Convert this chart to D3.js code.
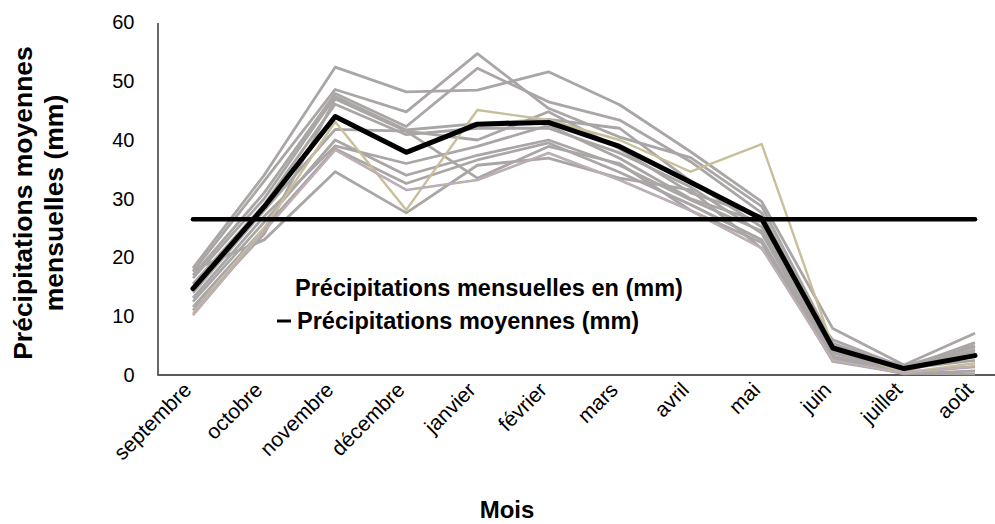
<!DOCTYPE html>
<html lang="fr">
<head>
<meta charset="utf-8">
<script src="https://cdn.jsdelivr.net/npm/d3@7"></script>
<style>
  html, body { margin: 0; padding: 0; background: #fff; }
  svg { display: block; font-family: "Liberation Sans", Arial, sans-serif; }
</style>
</head>
<body>
<svg id="chart" width="995" height="524"></svg>
<script>
// Mois de l'année hydrologique (septembre → août)
const months = ["septembre", "octobre", "novembre", "décembre", "janvier", "février",
                "mars", "avril", "mai", "juin", "juillet", "août"];

const yTicks = [0, 10, 20, 30, 40, 50, 60];

// Précipitations mensuelles (mm) par station / année
const station01 = [18.2, 34.0, 52.4, 48.2, 48.5, 51.6, 46.0, 38.0, 29.5, 7.9, 1.7, 7.1];
const station02 = [17.6, 33.0, 48.6, 44.8, 54.7, 45.4, 40.5, 37.0, 28.7, 5.4, 1.2, 5.5];
const station03 = [17.0, 31.0, 47.9, 42.3, 52.2, 46.5, 43.4, 36.3, 27.6, 4.5, 1.0, 4.8];
const station04 = [16.5, 30.0, 47.4, 41.7, 42.8, 43.5, 42.0, 33.0, 25.2, 3.7, 0.8, 4.3];
const station05 = [15.5, 29.0, 46.1, 40.9, 42.0, 42.0, 37.8, 32.0, 24.1, 3.2, 0.6, 3.8];
const station06 = [14.0, 28.0, 41.8, 41.5, 40.0, 44.8, 38.5, 31.0, 27.0, 5.0, 1.5, 5.0];
const station07 = [13.1, 27.0, 39.0, 36.0, 38.9, 42.5, 36.9, 30.0, 26.0, 4.0, 1.1, 2.5];
const station08 = [12.5, 26.0, 40.0, 34.0, 37.4, 40.0, 35.7, 29.8, 24.5, 3.0, 0.5, 1.4];
const station09 = [11.6, 25.0, 38.5, 32.6, 36.6, 39.5, 34.5, 29.0, 23.0, 2.8, 0.2, 0.7];
const station10 = [11.0, 24.0, 47.0, 41.5, 33.5, 38.9, 36.0, 28.0, 22.5, 2.3, 0.3, 0.2];
const station11 = [17.9, 23.0, 34.6, 27.6, 35.7, 36.9, 33.5, 31.5, 21.5, 6.0, 1.3, 4.0];
const station12 = [10.5, 25.0, 43.1, 28.1, 45.1, 43.4, 40.0, 34.6, 39.3, 4.8, 0.4, 2.0];
const station13 = [10.2, 24.5, 38.3, 31.5, 33.2, 37.8, 33.2, 28.0, 21.6, 2.5, 0.3, 1.5];

// Précipitations moyennes (mm)
const meanSeries = [14.7, 28.6, 44.0, 37.9, 42.7, 43.0, 38.9, 32.8, 26.6, 4.6, 1.1, 3.3];

const grayStations = [station01, station02, station03, station04, station05, station06,
                      station07, station08, station09, station10, station11];

const svg = d3.select("#chart");
const plot = { left: 157.5, right: 995, top: 22.5, bottom: 375 };

const x = d3.scalePoint().domain(months).range([193, 975]);
const y = d3.scaleLinear().domain([0, 60]).range([plot.bottom, plot.top]);

const line = d3.line()
  .x((d, i) => x(months[i]))
  .y(d => y(d));

// Axe des ordonnées
const yAxis = svg.append("g")
  .attr("transform", `translate(${plot.left},0)`)
  .call(d3.axisLeft(y).tickValues(yTicks).tickSize(0).tickSizeOuter(0).tickPadding(23));
yAxis.select(".domain").attr("stroke", "#000").attr("stroke-width", 1.2);
yAxis.selectAll(".tick text")
  .attr("font-size", 20)
  .attr("font-family", "Liberation Sans, Arial, sans-serif")
  .attr("fill", "#000");

// Axe des abscisses
svg.append("line")
  .attr("x1", plot.left).attr("x2", plot.right)
  .attr("y1", y(0)).attr("y2", y(0))
  .attr("stroke", "#5a5a5a").attr("stroke-width", 2);

const xAxis = svg.append("g")
  .attr("transform", `translate(0,${y(0)})`)
  .call(d3.axisBottom(x).tickSize(0));
xAxis.select(".domain").remove();
xAxis.selectAll(".tick text")
  .attr("font-size", 21)
  .attr("font-family", "Liberation Sans, Arial, sans-serif")
  .attr("fill", "#000")
  .attr("text-anchor", "end")
  .attr("x", 0).attr("y", 0).attr("dy", "0.35em")
  .attr("transform", "translate(-6,11) rotate(-45)");

// Séries mensuelles
const series = svg.append("g").attr("fill", "none").attr("stroke-linejoin", "round");
grayStations.forEach(s => {
  series.append("path").datum(s)
    .attr("d", line)
    .attr("stroke", "#aaa6a6")
    .attr("stroke-width", 2.8);
});
series.append("path").datum(station12)
  .attr("d", line).attr("stroke", "#c8bf9a").attr("stroke-width", 2.4);
series.append("path").datum(station13)
  .attr("d", line).attr("stroke", "#b2a6c8").attr("stroke-width", 2.6);
series.append("path").datum(station13)
  .attr("d", line).attr("stroke", "#c4b59c").attr("stroke-width", 1.2);

// Moyenne annuelle des précipitations moyennes
const annualMean = d3.mean(meanSeries);
svg.append("line")
  .attr("x1", x(months[0])).attr("x2", x(months[months.length - 1]))
  .attr("y1", y(annualMean)).attr("y2", y(annualMean))
  .attr("stroke", "#000").attr("stroke-width", 4.5).attr("stroke-linecap", "round");

// Courbe des précipitations moyennes
svg.append("path").datum(meanSeries)
  .attr("d", line)
  .attr("fill", "none")
  .attr("stroke", "#000")
  .attr("stroke-width", 5)
  .attr("stroke-linejoin", "round")
  .attr("stroke-linecap", "round");

// Légende
const legend = svg.append("g")
  .attr("font-size", 23.5).attr("font-weight", "bold")
  .attr("font-family", "Liberation Sans, Arial, sans-serif");
legend.append("text").attr("x", 295).attr("y", 296).text("Précipitations mensuelles en (mm)");
legend.append("line")
  .attr("x1", 277).attr("x2", 291).attr("y1", 321).attr("y2", 321)
  .attr("stroke", "#000").attr("stroke-width", 3);
legend.append("text").attr("x", 297).attr("y", 329).text("Précipitations moyennes (mm)");

// Titres des axes
svg.append("text")
  .attr("x", 507).attr("y", 518)
  .attr("text-anchor", "middle")
  .attr("font-size", 24).attr("font-weight", "bold")
  .attr("font-family", "Liberation Sans, Arial, sans-serif")
  .text("Mois");

const yTitle = svg.append("text")
  .attr("transform", "translate(0,203) rotate(-90)")
  .attr("text-anchor", "middle")
  .attr("font-size", 26.5).attr("font-weight", "bold")
  .attr("font-family", "Liberation Sans, Arial, sans-serif");
yTitle.append("tspan").attr("x", 0).attr("y", 32).text("Précipitations moyennes");
yTitle.append("tspan").attr("x", 0).attr("y", 63).text("mensuelles (mm)");
</script>
</body>
</html>
